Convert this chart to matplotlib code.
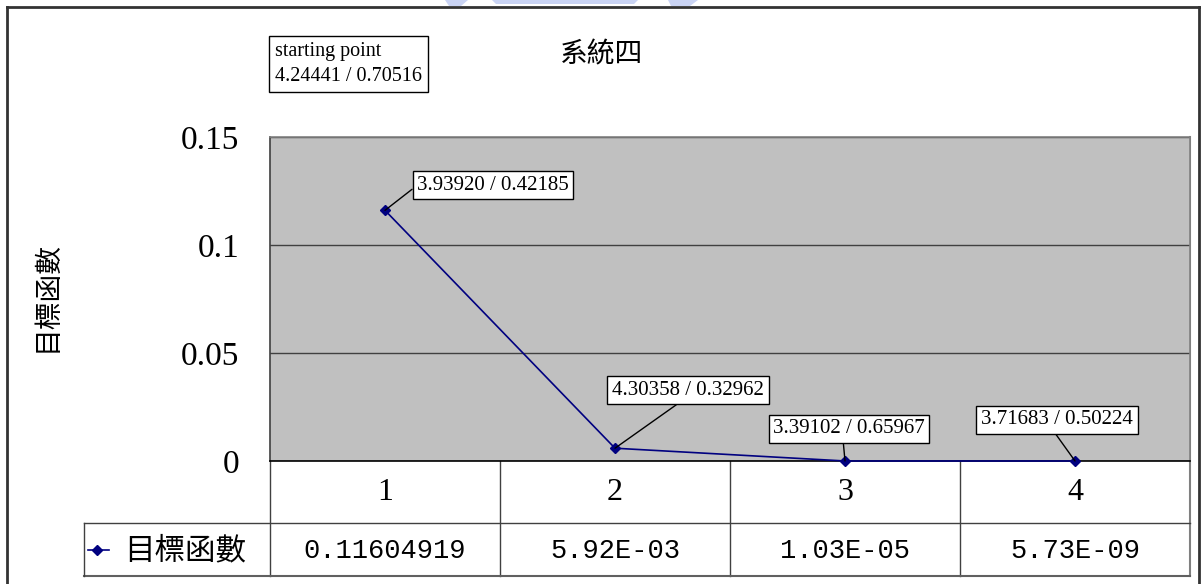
import matplotlib
matplotlib.use("Agg")
import matplotlib.pyplot as plt
import matplotlib.transforms as mtransforms
from matplotlib.lines import Line2D
from matplotlib.patches import Polygon

# ---- data ----
iterations = [1, 2, 3, 4]
objective = [0.11604919, 5.92e-3, 1.03e-5, 5.73e-9]
table_values = ["0.11604919", "5.92E-03", "1.03E-05", "5.73E-09"]
point_labels = ["3.93920 / 0.42185", "4.30358 / 0.32962",
                "3.39102 / 0.65967", "3.71683 / 0.50224"]
start_label = "starting point\n4.24441 / 0.70516"
series_name = "目標函數"
title_text = "系統四"
y_ticks = [0, 0.05, 0.1, 0.15]
y_tick_labels = ["0", "0.05", "0.1", "0.15"]

W, H = 1202, 584
fig = plt.figure(figsize=(W / 100, H / 100), dpi=100)
fig.patch.set_facecolor("white")

CJK = ["Noto Sans CJK TC", "DejaVu Sans"]
SERIF = "Liberation Serif"

# overlay in pixel coordinates (y downward) for frame and table
ov = fig.add_axes([0, 0, 1, 1], zorder=0)
ov.set_xlim(0, W)
ov.set_ylim(H, 0)
ov.axis("off")

# plot area
left, right, top, bottom = 270, 1190, 137, 461
ax = fig.add_axes([left / W, (H - bottom) / H, (right - left) / W, (bottom - top) / H], zorder=2)
ax.set_facecolor("#C0C0C0")
ax.set_xlim(0.5, 4.5)
ax.set_ylim(0, 0.15)
ax.set_xticks([])
ax.set_yticks(y_ticks)
ax.set_yticklabels(y_tick_labels, fontsize=24, family=SERIF)
ax.tick_params(axis="y", length=0, pad=22)
ax.yaxis.grid(True, color="#404040", lw=1)
ax.set_axisbelow(True)
for side, col in [("top", "#808080"), ("right", "#808080"), ("left", "#404040"), ("bottom", "#000000")]:
    ax.spines[side].set_color(col)
    ax.spines[side].set_linewidth(1.2)

ax.plot(iterations, objective, color="#000080", lw=1.2, marker="D", ms=5.5,
        markerfacecolor="#000080", markeredgecolor="#000080", zorder=3, clip_on=False)

# value labels with leader lines
offsets = [(108, 25), (73, 58), (4, 32), (-18, 41)]
relpos = [(0, 0.5), (0.47, 0), (0.46, 0), (0.47, 0)]
for x, y, lab, off, rp in zip(iterations, objective, point_labels, offsets, relpos):
    ax.annotate(lab, xy=(x, y), xytext=off, textcoords="offset pixels",
                ha="center", va="center", fontsize=15, family=SERIF,
                bbox=dict(boxstyle="square,pad=0.22", fc="white", ec="black", lw=1),
                arrowprops=dict(arrowstyle="-", color="black", lw=1, relpos=rp,
                                shrinkA=0, shrinkB=0),
                zorder=4, annotation_clip=False)

# starting point note and title
fig.text(275 / W, 1 - 64 / H, start_label, ha="left", va="center", fontsize=14.5,
         family=SERIF, linespacing=1.4,
         bbox=dict(boxstyle="square,pad=0.3", fc="white", ec="black", lw=1))
fig.text(602 / W, 1 - 54 / H, title_text, ha="center", va="center", fontsize=20, family=CJK)

# y-axis title
fig.text(47 / W, 1 - 297 / H, series_name, ha="center", va="center", rotation=90,
         fontsize=20, family=CJK)

# outer frame
ov.plot([7, 7], [H + 5, 7], color="#333333", lw=2, solid_capstyle="projecting")
ov.plot([7, 1199], [7, 7], color="#333333", lw=2, solid_capstyle="projecting")
ov.plot([1199, 1199], [7, H + 5], color="#333333", lw=2)

# faint logo fragment at the top edge
for pts in [[(445, 0), (468, 0), (461, 6), (449, 6)],
            [(492, 0), (638, 0), (634, 4), (496, 4)],
            [(668, 0), (698, 0), (690, 6), (671, 6)]]:
    ov.add_patch(Polygon(pts, closed=True, fc="#B4C2F0", ec="none", alpha=0.7))

# data table under the plot
row_sep, table_bottom, legend_left = 523, 576, 84
blend = mtransforms.blended_transform_factory(ax.transData, ov.transData)
lc = "#404040"
edges = [k + 0.5 for k in range(0, len(iterations) + 1)]
for e in edges[1:-1]:
    ov.plot([e, e], [bottom, table_bottom], color=lc, lw=1, transform=blend)
ov.plot([edges[0], edges[0]], [bottom, table_bottom], color=lc, lw=1, transform=blend)
ov.plot([edges[-1], edges[-1]], [top, table_bottom], color="#808080", lw=1.5, transform=blend)
ov.plot([legend_left, right], [row_sep, row_sep], color=lc, lw=1)
ov.plot([legend_left, right], [table_bottom, table_bottom], color="#606060", lw=1.5)
ov.plot([legend_left, legend_left], [row_sep, table_bottom], color=lc, lw=1)

for x, val in zip(iterations, table_values):
    ov.text(x, (bottom + row_sep) / 2 + 1, str(x), ha="center", va="center",
            fontsize=23, family=SERIF, transform=blend)
    ov.text(x, (row_sep + table_bottom) / 2 + 1, val, ha="center", va="center",
            fontsize=19.5, family="Liberation Mono", transform=blend)

# legend key in the table
ymid = (row_sep + table_bottom) / 2
ov.add_line(Line2D([88, 109], [ymid, ymid], color="#000080", lw=1.2))
ov.add_line(Line2D([97], [ymid], marker="D", ms=5.5, color="#000080"))
ov.text(185, ymid + 1, series_name, ha="center", va="center", fontsize=22, family=CJK)

fig.savefig("out.png", dpi=100)
